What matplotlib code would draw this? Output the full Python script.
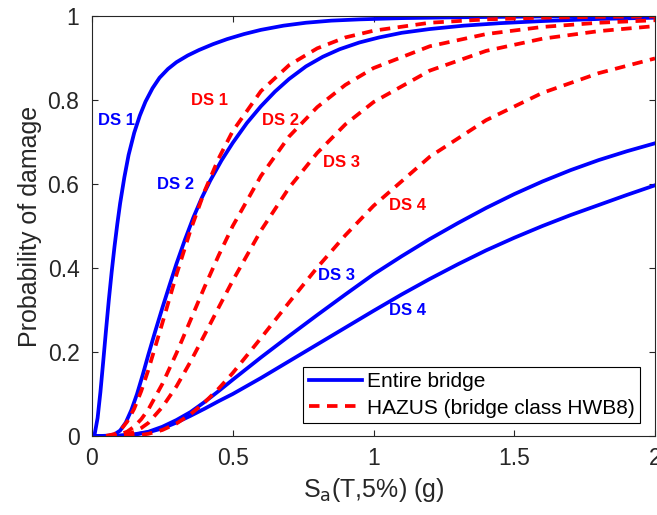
import matplotlib
matplotlib.use("Agg")
import matplotlib.pyplot as plt

plt.rcParams["font.family"] = ["Liberation Sans", "DejaVu Sans"]

# Entire bridge fragility curves
sa_b1 = [0, 0.01, 0.02, 0.03, 0.04, 0.05, 0.06, 0.07, 0.08, 0.09, 0.1, 0.115, 0.13, 0.15,
         0.17, 0.19, 0.215, 0.24, 0.27, 0.3, 0.34, 0.38, 0.43, 0.48, 0.54, 0.6, 0.68, 0.76,
         0.85, 0.95, 1.1, 1.3, 1.6, 2.0]
p_b1 = [0, 0.006, 0.043, 0.105, 0.178, 0.253, 0.325, 0.391, 0.451, 0.505, 0.554, 0.616,
        0.669, 0.722, 0.763, 0.796, 0.828, 0.853, 0.874, 0.89, 0.906, 0.919, 0.933, 0.945,
        0.957, 0.967, 0.977, 0.984, 0.989, 0.992, 0.995, 0.997, 0.999, 1.0]

sa_b2 = [0, 0.03, 0.06, 0.08, 0.1, 0.12, 0.14, 0.16, 0.18, 0.2, 0.225, 0.25, 0.275, 0.3,
         0.33, 0.36, 0.39, 0.42, 0.46, 0.5, 0.55, 0.6, 0.65, 0.7, 0.76, 0.82, 0.88, 0.95,
         1.02, 1.1, 1.2, 1.32, 1.45, 1.6, 1.8, 2.0]
p_b2 = [0, 0, 0.001, 0.004, 0.013, 0.032, 0.062, 0.1, 0.145, 0.193, 0.25, 0.305, 0.358,
        0.41, 0.467, 0.52, 0.567, 0.608, 0.656, 0.698, 0.745, 0.785, 0.82, 0.85, 0.88,
        0.903, 0.921, 0.937, 0.949, 0.96, 0.969, 0.977, 0.983, 0.988, 0.993, 0.996]

sa_b34 = [0, 0.05, 0.1, 0.15, 0.2, 0.25, 0.3, 0.35, 0.4, 0.45, 0.5, 0.6, 0.7, 0.8, 0.9,
          1.0, 1.1, 1.2, 1.3, 1.4, 1.5, 1.6, 1.7, 1.8, 1.9, 2.0]
p_b3 = [0, 0, 0.001, 0.004, 0.01, 0.022, 0.038, 0.057, 0.081, 0.107, 0.134, 0.187, 0.238,
        0.288, 0.337, 0.385, 0.428, 0.469, 0.507, 0.543, 0.576, 0.606, 0.633, 0.657, 0.678,
        0.697]
p_b4 = [0, 0, 0.001, 0.003, 0.009, 0.018, 0.032, 0.048, 0.065, 0.083, 0.1, 0.138, 0.178,
        0.218, 0.258, 0.298, 0.337, 0.374, 0.409, 0.442, 0.472, 0.5, 0.526, 0.55, 0.574,
        0.597]

# HAZUS curves, bridge class HWB8
sa_h = [0.05, 0.08, 0.1, 0.125, 0.15, 0.175, 0.2, 0.25, 0.3, 0.35, 0.4, 0.45, 0.5, 0.6,
        0.7, 0.8, 0.9, 1.0, 1.2, 1.4, 1.6, 1.8, 2.0]
p_h1 = [0.0003, 0.0045, 0.013, 0.034, 0.065, 0.107, 0.157, 0.269, 0.384, 0.49, 0.583,
        0.661, 0.726, 0.821, 0.883, 0.923, 0.949, 0.965, 0.984, 0.992, 0.996, 0.998, 0.999]
p_h2 = [0.0001, 0.001, 0.0037, 0.0104, 0.0223, 0.04, 0.063, 0.124, 0.197, 0.276, 0.355,
        0.43, 0.5, 0.619, 0.713, 0.783, 0.836, 0.876, 0.928, 0.957, 0.974, 0.984, 0.99]
p_h3 = [0, 0.0003, 0.0013, 0.004, 0.0097, 0.019, 0.031, 0.069, 0.118, 0.177, 0.241,
        0.306, 0.37, 0.489, 0.591, 0.674, 0.742, 0.795, 0.87, 0.917, 0.946, 0.964, 0.976]
p_h4 = [0, 0, 0.0001, 0.0004, 0.0012, 0.0027, 0.0052, 0.0143, 0.0297, 0.0518, 0.08,
        0.113, 0.15, 0.233, 0.318, 0.401, 0.478, 0.548, 0.665, 0.752, 0.817, 0.864, 0.899]

blue_labels = [("DS 1", 0.087, 0.752), ("DS 2", 0.298, 0.6),
               ("DS 3", 0.867, 0.381), ("DS 4", 1.119, 0.298)]
red_labels = [("DS 1", 0.416, 0.8), ("DS 2", 0.668, 0.752),
              ("DS 3", 0.885, 0.652), ("DS 4", 1.119, 0.55)]

fig = plt.figure(figsize=(6.57, 5.15), dpi=100)
ax = fig.add_axes([0.140, 0.1534, 0.857, 0.8155])

lw = 2.7
dash = (2.8, 2.0)
blue = "#0000ff"
red = "#ff0000"

ax.plot(sa_b1, p_b1, color=blue, lw=lw, label="Entire bridge")
ax.plot(sa_b2, p_b2, color=blue, lw=lw)
ax.plot(sa_b34, p_b3, color=blue, lw=lw)
ax.plot(sa_b34, p_b4, color=blue, lw=lw)
ax.plot(sa_h, p_h1, color=red, lw=lw, ls="--", dashes=dash, label="HAZUS (bridge class HWB8)")
ax.plot(sa_h, p_h2, color=red, lw=lw, ls="--", dashes=dash)
ax.plot(sa_h, p_h3, color=red, lw=lw, ls="--", dashes=dash)
ax.plot(sa_h, p_h4, color=red, lw=lw, ls="--", dashes=dash)

for txt, x, y in blue_labels:
    ax.text(x, y, txt, color=blue, fontsize=12, fontweight="bold", ha="center", va="center")
for txt, x, y in red_labels:
    ax.text(x, y, txt, color=red, fontsize=12, fontweight="bold", ha="center", va="center")

ax.set_xlim(0, 2)
ax.set_ylim(0, 1)
ax.set_xticks([0, 0.5, 1, 1.5, 2])
ax.set_xticklabels(["0", "0.5", "1", "1.5", "2"])
ax.set_yticks([0, 0.2, 0.4, 0.6, 0.8, 1])
ax.set_yticklabels(["0", "0.2", "0.4", "0.6", "0.8", "1"])

dark = "#262626"
for s in ax.spines.values():
    s.set_color(dark)
    s.set_linewidth(0.8)
ax.tick_params(direction="in", top=True, right=True, length=4, width=0.8,
               color=dark, labelcolor=dark, labelsize=16.5)
ax.tick_params(axis="x", pad=8)
ax.tick_params(axis="y", pad=9)

ax.set_xlabel(r"S$_\mathrm{a}$(T,5%) (g)", fontsize=18, color=dark)
ax.set_ylabel("Probability of damage", fontsize=18, color=dark)

leg = ax.legend(loc="lower right", bbox_to_anchor=(0.973, 0.031), borderaxespad=0,
                fontsize=15, fancybox=False, framealpha=1, edgecolor="black",
                handlelength=2.55, handletextpad=0.25, labelspacing=0.35,
                borderpad=0.25)
leg.get_frame().set_linewidth(0.8)

fig.savefig("out.png", dpi=100)
